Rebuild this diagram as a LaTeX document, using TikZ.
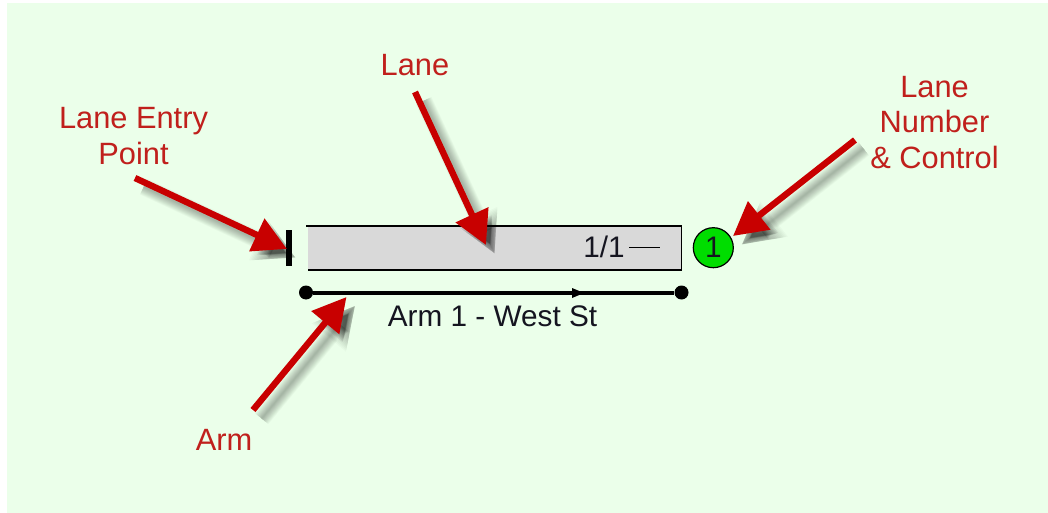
\documentclass[tikz,border=0pt]{standalone}
\usepackage{fontspec}
\setmainfont{Liberation Sans}
\usetikzlibrary{arrows.meta}
\definecolor{bgout}{HTML}{FFFFFF}
\definecolor{bggreen}{HTML}{EBFFEA}
\definecolor{lanegray}{HTML}{D9D9D9}
\definecolor{callout}{HTML}{C80000}
\definecolor{labelred}{HTML}{C0201C}
\definecolor{ctrlgreen}{HTML}{00DD00}
\definecolor{inktext}{HTML}{151520}
\tikzset{
  x=0.75pt,y=-0.75pt,
  callouttext/.style={text=labelred,font=\fontsize{23.1}{26.5}\selectfont,align=center,inner sep=0pt,anchor=center},
  darktext/.style={text=inktext,font=\fontsize{22.3}{26}\selectfont,inner sep=0pt,anchor=center},
  redarrow/.style={draw=callout,line width=4.8pt,-{Triangle[length=25pt,width=26pt,fill=callout]}},
  dotnode/.style={circle,fill=black,inner sep=0pt,minimum size=10.5pt},
}
\newcommand{\calloutarrow}[2]{%
  \foreach \wd/\hd in {13/31,12/30,11/29,10/28,9/27,8/26,7/25,6/24,5/23,4/22,3/21,2/20,1/19}{
    \draw[draw=black,draw opacity=0.022,fill opacity=0.06,line width=\wd pt,
      -{Triangle[length=\hd pt,width=\hd pt,fill=black]},
      transform canvas={shift={(6.5pt,-6.5pt)}}] (#1) -- (#2);
  }
  \draw[redarrow] (#1) -- (#2);
}
\begin{document}
\begin{tikzpicture}
\useasboundingbox (0,0) rectangle (1048,513);
\fill[bgout] (0,0) rectangle (1048,513);
\fill[bggreen] (7,3) rectangle (1048,513);

\node[callouttext] (lanelabel) at (415,65) {Lane};
\node[callouttext] (entrylabel) at (133.5,136) {Lane Entry\\Point};
\node[callouttext] (numberlabel) at (934.5,122.5) {Lane\\Number\\\&\ Control};
\node[callouttext] (armlabel) at (224,440) {Arm};

\coordinate (lanetail) at (415,92);
\coordinate (lanetip) at (486,245);
\coordinate (entrytail) at (135,178);
\coordinate (entrytip) at (287,249);
\coordinate (numbertail) at (855,140);
\coordinate (numbertip) at (733,236);
\coordinate (armtail) at (253,410);
\coordinate (armtip) at (346.5,297);

\node[fill=lanegray,minimum width=281pt,minimum height=33pt,inner sep=0pt] (lane) at (495,248) {};
\draw[black,line width=1.4pt] (306,226) coordinate (lanetopleft) -- (681.5,226) coordinate (lanetopright) -- (681.5,270) coordinate (lanebottomright) -- (308,270) coordinate (lanebottomleft);
\draw[black,line width=4.3pt] (289,230.5) coordinate (entrytop) -- (289,266) coordinate (entrybottom);
\node[darktext] (lanecount) at (604,247) {1/1};
\coordinate (dashleft) at (629,247.5);
\coordinate (dashright) at (660,247.5);
\draw[black,line width=1.4pt] (dashleft) -- (dashright);
\node[circle,draw=black,fill=ctrlgreen,line width=0.9pt,minimum size=30pt,inner sep=0pt,text=inktext,font=\fontsize{22.3}{24}\selectfont] (control) at (713.3,247.7) {1};

\node[dotnode] (armstart) at (306,292.5) {};
\node[dotnode] (armend) at (681.5,292.5) {};
\draw[black,line width=3pt] (armstart) -- (armend);
\coordinate (armmid) at (584,293);
\fill[black] (armmid) -- ++(-12,-5) -- ++(0,10) -- cycle;
\node[darktext] (armname) at (492.5,316) {Arm 1 - West St};

\calloutarrow{lanetail}{lanetip}
\calloutarrow{entrytail}{entrytip}
\calloutarrow{numbertail}{numbertip}
\calloutarrow{armtail}{armtip}
\end{tikzpicture}
\end{document}
